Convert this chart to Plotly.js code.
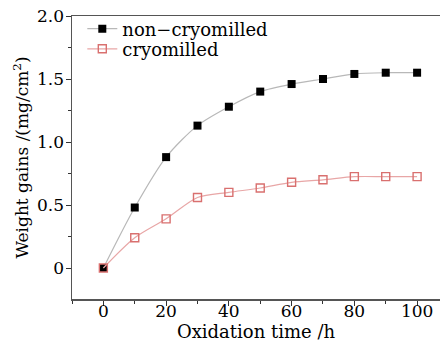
<!DOCTYPE html>
<html>
<head>
<meta charset="utf-8">
<script src="https://cdn.plot.ly/plotly-3.0.1.min.js"></script>
<style>html,body{margin:0;padding:0;background:#fff;}#chart{width:440px;height:344px;}</style>
</head>
<body>
<div id="chart"></div>
<script>
const timeH = [0, 10, 20, 30, 40, 50, 60, 70, 80, 90, 100];
const nonCryomilled = [0, 0.48, 0.88, 1.13, 1.28, 1.40, 1.46, 1.50, 1.54, 1.55, 1.55];
const cryomilled = [0, 0.24, 0.39, 0.56, 0.60, 0.635, 0.68, 0.70, 0.725, 0.725, 0.725];
const xTicks = [0, 20, 40, 60, 80, 100];
const yTicks = [0, 0.5, 1.0, 1.5, 2.0];
const yTickText = ['0', '0.5', '1.0', '1.5', '2.0'];

const FONT = '"DejaVu Serif", "Liberation Serif", serif';

const traces = [
  {
    x: timeH, y: nonCryomilled, name: 'non\u2212cryomilled', legend: 'legend',
    type: 'scatter', mode: 'lines+markers',
    line: {color: '#b8b8b8', width: 1.2, shape: 'spline', smoothing: 0.8},
    marker: {symbol: 'square', size: 8, color: '#000000', line: {color: '#000000', width: 0}}
  },
  {
    x: timeH, y: cryomilled, name: 'cryomilled', legend: 'legend2',
    type: 'scatter', mode: 'lines+markers',
    line: {color: '#e8a6a6', width: 1.2, shape: 'spline', smoothing: 0.8},
    marker: {symbol: 'square-open', size: 8, color: '#d9706f', line: {color: '#d9706f', width: 1.4}}
  }
];

const legendCommon = {x: 0.028, xanchor: 'left', yanchor: 'middle', bgcolor: 'rgba(0,0,0,0)',
  font: {family: FONT, size: 18, color: '#000'}, itemwidth: 30, borderwidth: 0};

const layout = {
  width: 440, height: 344,
  margin: {l: 72, r: 0, t: 16, b: 45},
  paper_bgcolor: '#ffffff', plot_bgcolor: '#ffffff',
  font: {family: FONT, color: '#000', size: 16},
  showlegend: true,
  legend: Object.assign({}, legendCommon, {y: 0.954}),
  legend2: Object.assign({}, legendCommon, {y: 0.883}),
  xaxis: {
    range: [-10, 107.3], tickvals: xTicks, ticks: 'outside', ticklen: 5, tickwidth: 1,
    tickcolor: '#333', showline: true, linecolor: '#555', linewidth: 1.5, mirror: true,
    showgrid: false, zeroline: false, ticklabelstandoff: -9,
    minor: {dtick: 10, tick0: 0, ticks: 'outside', ticklen: 3, tickcolor: '#333', showgrid: false},
    tickfont: {family: FONT, size: 17, color: '#000'},
    title: {text: 'Oxidation time /h', font: {family: FONT, size: 18, color: '#000'}, standoff: 3}
  },
  yaxis: {
    range: [-0.246, 2.0], tickvals: yTicks, ticktext: yTickText, ticks: 'outside', ticklen: 5, tickwidth: 1,
    tickcolor: '#333', showline: true, linecolor: '#555', linewidth: 1.5,
    showgrid: false, zeroline: false, ticklabelstandoff: -2,
    minor: {tickvals: [0.25, 0.75, 1.25, 1.75], ticks: 'outside', ticklen: 3, tickcolor: '#333', showgrid: false},
    tickfont: {family: FONT, size: 17, color: '#000'},
    title: {text: 'Weight gains /(mg/cm<sup>2</sup>)', font: {family: FONT, size: 17, color: '#000'}, standoff: 4}
  }
};

Plotly.newPlot('chart', traces, layout, {displayModeBar: false, staticPlot: true});
</script>
</body>
</html>
